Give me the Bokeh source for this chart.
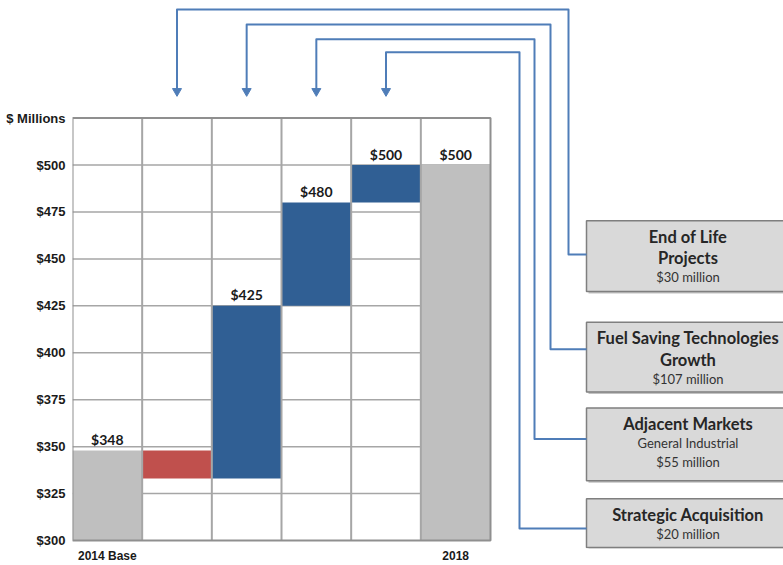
from bokeh.plotting import figure
from bokeh.models import Range1d, FixedTicker, NumeralTickFormatter, ColumnDataSource
from bokeh.core.properties import value
from bokeh.embed import file_html
from bokeh.resources import INLINE

# ---- data -------------------------------------------------------------
steps = ["2014 Base", "End of Life Projects", "Fuel Saving Technologies Growth",
         "Adjacent Markets", "Strategic Acquisition", "2018"]
base_value = 348
changes = [-15, 92, 55, 20]
final_value = 500
y_ticks = [300, 325, 350, 375, 400, 425, 450, 475, 500]
y_top = 525
y_unit_label = "$ Millions"
x_tick_labels = {0.5: "2014 Base", 5.5: "2018"}

box_titles = [["End of Life", "Projects"],
              ["Fuel Saving Technologies", "Growth"],
              ["Adjacent Markets"],
              ["Strategic Acquisition"]]
box_notes = [["$30 million"],
             ["$107 million"],
             ["General Industrial", "$55 million"],
             ["$20 million"]]
# each driver box points at the column of its step
box_steps = [1, 2, 3, 4]

# ---- styling / layout -------------------------------------------------
GRAY, RED, BLUE = "#bfbfbf", "#c0504d", "#305f94"
LINK = "#4f7db8"
GRID = "#a6a6a6"
TEXT = "#1a1a1a"

W, H = 783, 565
LEFT, BOTTOM = 72, 15             # axis panels
CHART_RIGHT_PX, CHART_TOP_PX, CHART_BOTTOM_PX = 490, 118, 542
FRAME_B = H - BOTTOM
Y_MIN = y_ticks[0]
X_PER = (CHART_RIGHT_PX - LEFT) / len(steps)              # px per column
Y_PER = (CHART_BOTTOM_PX - CHART_TOP_PX) / (y_top - Y_MIN)  # px per $M


def dx(px):
    """canvas pixel x -> data x"""
    return (px - LEFT) / X_PER


def dy(py):
    """canvas pixel y (from top) -> data y"""
    return Y_MIN + (CHART_BOTTOM_PX - py) / Y_PER


# ---- waterfall geometry ----------------------------------------------
bottoms, tops, colors, labels, label_y = [Y_MIN], [base_value], [GRAY], [f"${base_value}"], [base_value]
level = base_value
for c in changes:
    new = level + c
    bottoms.append(min(level, new))
    tops.append(max(level, new))
    colors.append(RED if c < 0 else BLUE)
    labels.append("" if c < 0 else f"${new}")
    label_y.append(new)
    level = new
bottoms.append(Y_MIN)
tops.append(final_value)
colors.append(GRAY)
labels.append(f"${final_value}")
label_y.append(final_value)

centers = [i + 0.5 for i in range(len(steps))]
src = ColumnDataSource(dict(x=centers, bottom=bottoms, top=tops, color=colors,
                            text=labels, ly=label_y))

p = figure(width=W, height=H, x_range=Range1d(0, dx(W)), y_range=Range1d(dy(FRAME_B), dy(0)),
           output_backend="svg", toolbar_location=None,
           min_border_left=LEFT, min_border_right=0,
           min_border_top=0, min_border_bottom=BOTTOM)
p.background_fill_color = "white"
p.border_fill_color = "white"
p.outline_line_color = None
p.grid.visible = False

n = len(steps)
# horizontal rules behind the bars
p.segment(x0=[0] * (len(y_ticks) - 1), x1=[n] * (len(y_ticks) - 1),
          y0=y_ticks[1:], y1=y_ticks[1:], line_color=GRID, line_width=1.5)

p.vbar(x="x", bottom="bottom", top="top", width=1, fill_color="color",
       line_color=None, source=src)

# column dividers and chart border in front of the bars
dividers = list(range(1, n))
p.segment(x0=dividers, x1=dividers, y0=[Y_MIN] * len(dividers), y1=[y_top] * len(dividers),
          line_color=GRID, line_width=2)
p.quad(left=[0], right=[n], bottom=[Y_MIN], top=[y_top], fill_color=None,
       line_color="#8f8f8f", line_width=2)

p.text(x="x", y="ly", text="text", source=src, text_align="center",
       text_baseline="middle", y_offset=-11, text_font=value("Lato"),
       text_font_style="bold", text_font_size="14px", text_color=TEXT)

# axes
p.yaxis.ticker = FixedTicker(ticks=y_ticks + [y_top])
p.yaxis.formatter = NumeralTickFormatter(format="$0")
p.yaxis.major_label_overrides = {y_top: y_unit_label}
p.xaxis.ticker = FixedTicker(ticks=list(x_tick_labels.keys()))
p.xaxis.major_label_overrides = x_tick_labels
for ax in (p.xaxis, p.yaxis):
    ax.axis_line_color = None
    ax.major_tick_line_color = None
    ax.minor_tick_line_color = None
    ax.major_tick_out = 0
    ax.major_tick_in = 0
    ax.major_label_text_font = "Liberation Sans"
    ax.major_label_text_font_style = "bold"
    ax.major_label_text_color = TEXT
p.yaxis.major_label_text_font_size = "13px"
p.yaxis.major_label_standoff = 7
p.xaxis.major_label_text_font_size = "12px"
p.xaxis.major_label_standoff = 0

# ---- driver boxes on the right ---------------------------------------
box_left, box_right = 586, 790
box_tops = [221, 323, 409, 500]
box_bottoms = [292, 393, 482, 549]
text_cx = 687.5

p.quad(left=[dx(box_left + 2)] * 4, right=[dx(box_right + 2)] * 4,
       top=[dy(t + 2) for t in box_tops], bottom=[dy(b + 2) for b in box_bottoms],
       fill_color="#9a9a9a", fill_alpha=0.6, line_color=None)
p.quad(left=[dx(box_left)] * 4, right=[dx(box_right)] * 4,
       top=[dy(t) for t in box_tops], bottom=[dy(b) for b in box_bottoms],
       fill_color="#d9d9d9", line_color="#7f7f7f", line_width=1.5)

tx, ty_, tt, tsize, tstyle, tcol = [], [], [], [], [], []
for top, titles, notes in zip(box_tops, box_titles, box_notes):
    yy = top + 16
    for t in titles:
        tx.append(dx(text_cx)); ty_.append(dy(yy)); tt.append(t)
        tsize.append("16.5px"); tstyle.append("bold"); tcol.append("#262626")
        yy += 21.5
    yy -= 2
    for note in notes:
        tx.append(dx(text_cx)); ty_.append(dy(yy)); tt.append(note)
        tsize.append("13px"); tstyle.append("normal"); tcol.append("#333333")
        yy += 18.5
box_src = ColumnDataSource(dict(x=tx, y=ty_, text=tt, size=tsize, style=tstyle, color=tcol))
p.text(x="x", y="y", text="text", source=box_src, text_align="center",
       text_baseline="middle", text_font=value("Lato"), text_font_size="size",
       text_font_style="style", text_color="color")

# ---- connectors from each box to its column --------------------------
attach_y = [255, 350, 440, 530]
riser_x = [568, 550, 534, 519]
top_y = [9, 24, 39, 52]
tip_y = 95
xs, ys = [], []
for ay, rx, ty, step in zip(attach_y, riser_x, top_y, box_steps):
    cx = centers[step]
    xs.append([dx(box_left), dx(rx), dx(rx), cx, cx])
    ys.append([dy(ay), dy(ay), dy(ty), dy(ty), dy(tip_y - 4)])
p.multi_line(xs=xs, ys=ys, line_color=LINK, line_width=2, line_join="round")
p.scatter(x=[centers[s] for s in box_steps], y=[dy(tip_y - 4)] * len(box_steps),
          marker="inverted_triangle", size=9, fill_color=LINK, line_color=LINK)

open("out.html", "w").write(file_html(p, INLINE))
